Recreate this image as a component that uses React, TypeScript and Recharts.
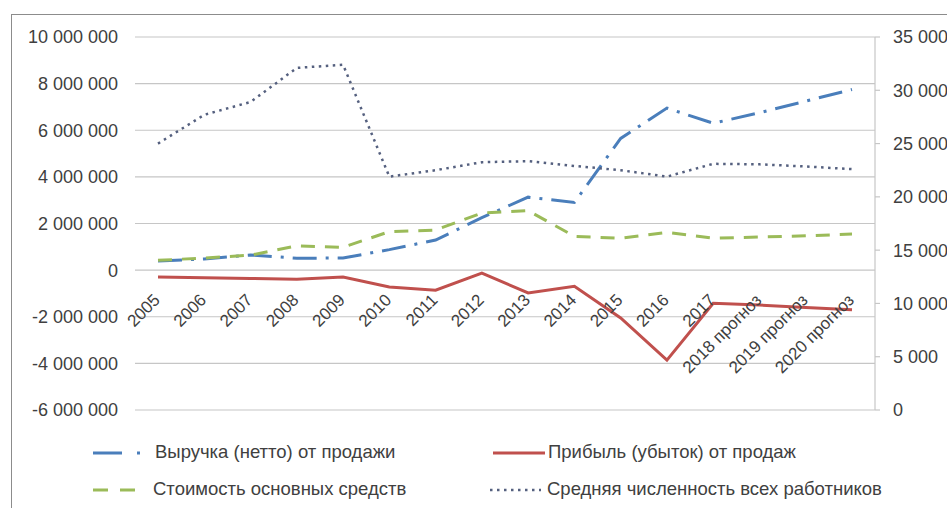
import { LineChart, Line, XAxis, YAxis, CartesianGrid } from 'recharts';

const years = [
  '2005', '2006', '2007', '2008', '2009', '2010', '2011', '2012', '2013', '2014',
  '2015', '2016', '2017', '2018 прогноз', '2019 прогноз', '2020 прогноз',
];

// Выручка (нетто) от продажи
const revenue = [
  390000, 480000, 650000, 510000, 520000, 880000, 1290000, 2250000, 3130000, 2900000,
  5650000, 6950000, 6300000, 6750000, 7250000, 7750000,
];
// Прибыль (убыток) от продаж
const profit = [
  -300000, -330000, -360000, -390000, -300000, -720000, -860000, -130000, -980000, -690000,
  -2050000, -3860000, -1420000, -1500000, -1600000, -1700000,
];
// Стоимость основных средств
const assets = [
  420000, 520000, 640000, 1040000, 980000, 1650000, 1720000, 2450000, 2550000, 1450000,
  1370000, 1620000, 1370000, 1420000, 1470000, 1550000,
];
// Средняя численность всех работников
const staff = [
  25000, 27700, 28900, 32100, 32400, 21900, 22500, 23250, 23350, 22900,
  22500, 21900, 23100, 23050, 22850, 22600,
];

const leftTicks = [-6000000, -4000000, -2000000, 0, 2000000, 4000000, 6000000, 8000000, 10000000];
const rightTicks = [0, 5000, 10000, 15000, 20000, 25000, 30000, 35000];

const data = years.map((year, i) => ({
  year,
  revenue: revenue[i],
  profit: profit[i],
  assets: assets[i],
  staff: staff[i],
}));

const FONT = '"Liberation Sans", Arial, sans-serif';
const TEXT = '#404040';
const GRID = '#c6c6c6';

const PLOT_TOP = 37;
const PLOT_H = 373;
const LEFT_MIN = leftTicks[0];
const LEFT_MAX = leftTicks[leftTicks.length - 1];
const ZERO_Y = PLOT_TOP + (PLOT_H * LEFT_MAX) / (LEFT_MAX - LEFT_MIN);

const fmt = (v: number) => String(v).replace(/\B(?=(\d{3})+(?!\d))/g, ' ');

const XTick = (props: any) => {
  const { x, payload } = props;
  return (
    <text
      transform={`translate(${x + 3},${ZERO_Y + 31}) rotate(-45)`}
      textAnchor="end"
      fontSize={17}
      fill={TEXT}
      fontFamily={FONT}
    >
      {payload.value}
    </text>
  );
};

const legendText = { fontFamily: FONT, fontSize: 18.5, color: TEXT, whiteSpace: 'nowrap' as const };

export default function App() {
  return (
    <div style={{ position: 'fixed', left: 0, top: 0, width: 947, height: 508, overflow: 'hidden', background: '#fff' }}>
      <div
        style={{
          position: 'absolute', left: 11, top: 14, width: 1000, height: 600,
          border: '1px solid #8c8c8c',
        }}
      />
      <div style={{ position: 'absolute', left: 0, top: 0 }}>
        <LineChart width={947} height={508} data={data} margin={{ top: 37, right: 12, bottom: 0, left: 15 }}>
          <CartesianGrid yAxisId="left" vertical={false} stroke={GRID} strokeWidth={1.2} />
          <XAxis
            dataKey="year"
            height={98}
            interval={0}
            padding={{ left: 23, right: 23 }}
            axisLine={false}
            tickLine={false}
            tick={<XTick />}
          />
          <YAxis
            yAxisId="left"
            width={120}
            domain={[LEFT_MIN, LEFT_MAX]}
            ticks={leftTicks}
            tickFormatter={fmt}
            axisLine={false}
            tickLine={false}
            tickSize={0}
            tickMargin={17}
            tick={{ fontSize: 18, fill: TEXT, fontFamily: FONT }}
          />
          <YAxis
            yAxisId="right"
            orientation="right"
            width={60}
            domain={[0, 35000]}
            ticks={rightTicks}
            tickFormatter={fmt}
            axisLine={{ stroke: GRID, strokeWidth: 1.2 }}
            tickLine={{ stroke: GRID, strokeWidth: 1.2 }}
            tickSize={5}
            tickMargin={13}
            tick={{ fontSize: 18, fill: TEXT, fontFamily: FONT, textAnchor: 'start' }}
          />
          <Line
            yAxisId="left"
            type="linear"
            dataKey="revenue"
            stroke="#4a7ebb"
            strokeWidth={3}
            strokeDasharray="24 9 3 9"
            dot={false}
            isAnimationActive={false}
          />
          <Line
            yAxisId="left"
            type="linear"
            dataKey="profit"
            stroke="#c0504d"
            strokeWidth={3}
            dot={false}
            isAnimationActive={false}
          />
          <Line
            yAxisId="left"
            type="linear"
            dataKey="assets"
            stroke="#9bbb59"
            strokeWidth={3}
            strokeDasharray="14 10"
            dot={false}
            isAnimationActive={false}
          />
          <Line
            yAxisId="right"
            type="linear"
            dataKey="staff"
            stroke="#55607f"
            strokeWidth={2.5}
            strokeDasharray="2.5 4.5"
            dot={false}
            isAnimationActive={false}
          />
        </LineChart>
      </div>

      <svg style={{ position: 'absolute', left: 0, top: 0 }} width={947} height={508}>
        <line x1={93} y1={453} x2={142} y2={453} stroke="#4a7ebb" strokeWidth={3} strokeDasharray="29 15 3 10" />
        <line x1={493} y1={453} x2={545} y2={453} stroke="#c0504d" strokeWidth={3} />
        <line x1={93} y1={490} x2={135} y2={490} stroke="#9bbb59" strokeWidth={3} strokeDasharray="15 12" />
        <line x1={490} y1={490} x2={541} y2={490} stroke="#55607f" strokeWidth={2.5} strokeDasharray="2.5 4.5" />
      </svg>
      <div style={{ ...legendText, position: 'absolute', left: 155, top: 441 }}>Выручка (нетто) от продажи</div>
      <div style={{ ...legendText, position: 'absolute', left: 548, top: 441 }}>Прибыль (убыток) от продаж</div>
      <div style={{ ...legendText, position: 'absolute', left: 153, top: 478 }}>Стоимость основных средств</div>
      <div style={{ ...legendText, position: 'absolute', left: 547, top: 478 }}>Средняя численность всех работников</div>
    </div>
  );
}
